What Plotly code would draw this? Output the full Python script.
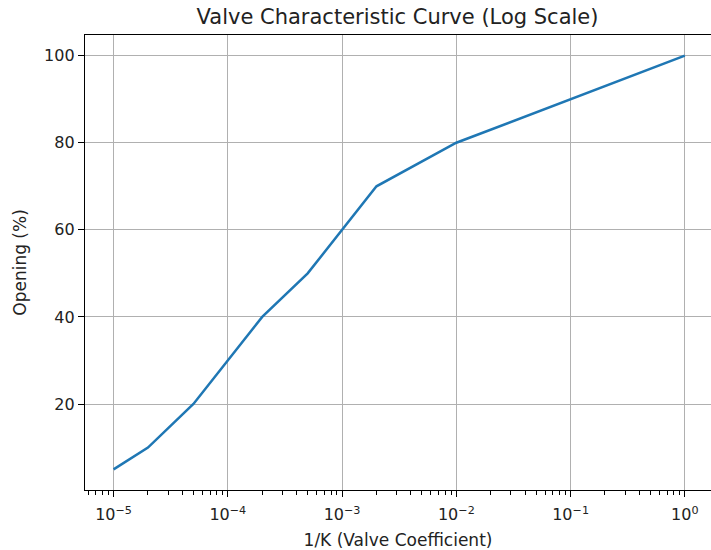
import plotly.graph_objects as go

inv_k = [1e-5, 2e-5, 5e-5, 2e-4, 5e-4, 2e-3, 1e-2, 1e0]
opening = [5, 10, 20, 40, 50, 70, 80, 100]

x_ticks = [1e-5, 1e-4, 1e-3, 1e-2, 1e-1, 1e0]
x_ticktext = ["10<sup>\u22125</sup>", "10<sup>\u22124</sup>", "10<sup>\u22123</sup>",
              "10<sup>\u22122</sup>", "10<sup>\u22121</sup>", "10<sup>0</sup>"]
y_ticks = [20, 40, 60, 80, 100]

minor_vals = [m * 10 ** e for e in range(-6, 1) for m in range(2, 10)]

fig = go.Figure()
fig.add_trace(go.Scatter(x=inv_k, y=opening, mode="lines",
                         line=dict(color="#1f77b4", width=2.5)))

font = "DejaVu Sans, sans-serif"
fig.update_layout(
    width=711, height=550,
    margin=dict(l=85, r=0, t=35, b=60),
    paper_bgcolor="white", plot_bgcolor="white",
    showlegend=False,
    font=dict(family=font, size=16, color="black"),
    title=dict(text="Valve Characteristic Curve (Log Scale)", x=397.5 / 711,
               xanchor="center", y=1 - 17 / 550, yanchor="middle",
               font=dict(family=font, size=21, color="#222")),
    xaxis=dict(type="log", range=[-5.25, 0.229],
               tickvals=x_ticks, ticktext=x_ticktext,
               ticks="outside", ticklen=6, tickwidth=1.3, tickcolor="black",
               ticklabelstandoff=4,
               showgrid=True, gridcolor="#b0b0b0", gridwidth=1.3,
               showline=True, linecolor="black", linewidth=1.3, mirror=True,
               zeroline=False,
               minor=dict(tickvals=minor_vals, ticks="outside", ticklen=3.5,
                          tickwidth=1, tickcolor="black", showgrid=False),
               title=dict(text="1/K (Valve Coefficient)", standoff=10,
                          font=dict(family=font, size=17, color="#222")),
               tickfont=dict(family=font, size=16, color="#222")),
    yaxis=dict(range=[0.25, 104.75], tickvals=y_ticks,
               ticks="outside", ticklen=6, tickwidth=1.3, tickcolor="black",
               showgrid=True, gridcolor="#b0b0b0", gridwidth=1.3,
               showline=True, linecolor="black", linewidth=1.3,
               zeroline=False,
               title=dict(text="Opening (%)", standoff=13,
                          font=dict(family=font, size=17, color="#222")),
               tickfont=dict(family=font, size=16, color="#222")),
)
fig.write_html("out.html")
